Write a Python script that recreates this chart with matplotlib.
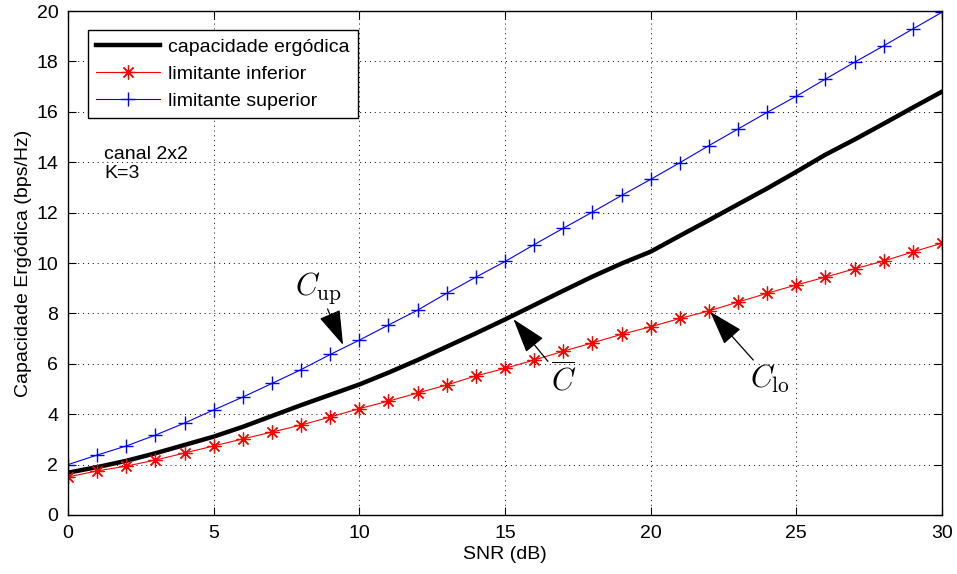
import numpy as np
import matplotlib
matplotlib.use("Agg")
import matplotlib.pyplot as plt

plt.rcParams['font.family'] = ['Liberation Sans', 'DejaVu Sans']
plt.rcParams['mathtext.fontset'] = 'cm'

# dados
snr = list(range(0, 31))
cap_ergodica = [1.68, 1.9, 2.15, 2.45, 2.78, 3.11, 3.5, 3.93, 4.36, 4.77, 5.18,
                5.65, 6.15, 6.68, 7.21, 7.76, 8.33, 8.9, 9.46, 9.98, 10.45,
                11.08, 11.7, 12.33, 12.96, 13.62, 14.3, 14.9, 15.53, 16.17, 16.8]
lim_inferior = [1.51, 1.75, 1.94, 2.18, 2.46, 2.74, 3.02, 3.29, 3.57, 3.89, 4.22,
                4.52, 4.84, 5.16, 5.52, 5.82, 6.15, 6.5, 6.83, 7.17, 7.47,
                7.8, 8.1, 8.45, 8.8, 9.13, 9.44, 9.77, 10.08, 10.44, 10.79]
lim_superior = [2.0, 2.38, 2.74, 3.17, 3.65, 4.17, 4.68, 5.22, 5.77, 6.37, 6.94,
                7.54, 8.13, 8.8, 9.44, 10.06, 10.73, 11.38, 12.02, 12.68, 13.32,
                13.98, 14.66, 15.32, 15.98, 16.62, 17.3, 17.97, 18.62, 19.29, 19.95]

fig = plt.figure(figsize=(9.57, 5.74), dpi=100)
ax = fig.add_axes([0.0711, 0.1028, 0.9132, 0.878])

ax.plot(snr, cap_ergodica, color='black', linewidth=3.2, label='capacidade ergódica')
ax.plot(snr, lim_inferior, color='red', linewidth=0.8, marker=(8, 2, 0), markersize=10,
        markeredgewidth=0.9, label='limitante inferior')
ax.plot(snr, lim_superior, color='blue', linewidth=0.8, marker='+', markersize=10,
        markeredgewidth=1.0, label='limitante superior')

ax.set_xlim(0, 30)
ax.set_ylim(0, 20)
ax.set_xticks(range(0, 31, 5))
ax.set_yticks(range(0, 21, 2))
ax.tick_params(direction='in', top=True, right=True, labelsize=14, length=6, width=0.8,
               pad=7)
for s in ax.spines.values():
    s.set_linewidth(1.0)
ax.grid(True, color='black', linestyle=(0, (1, 4)), linewidth=0.7)

ax.set_xlabel('SNR (dB)', fontsize=14, labelpad=3)
ax.set_ylabel('Capacidade Ergódica (bps/Hz)', fontsize=14, labelpad=3)

leg = ax.legend(loc='upper left', bbox_to_anchor=(0.0229, 0.9623), fontsize=14,
                fancybox=False, edgecolor='black', framealpha=1, handlelength=3.3,
                borderaxespad=0, labelspacing=0.48, handletextpad=0.4, borderpad=0.42)
leg.get_frame().set_linewidth(1.0)

ax.text(1.25, 14.65, 'canal 2x2\nK=3', fontsize=14, va='top', ha='left', linespacing=1.2)

seta = dict(arrowstyle='-|>,head_length=1.0,head_width=0.32', color='black', lw=0.9,
            shrinkA=0, shrinkB=0)
ax.annotate(r'$C_{\rm up}$', xy=(9.44, 6.75), xytext=(8.6, 9.0), fontsize=22,
            ha='center', va='center', arrowprops=seta)
ax.annotate(r'$\overline{C}$', xy=(15.29, 7.77), xytext=(17.0, 5.35), fontsize=22,
            ha='center', va='center', arrowprops=seta)
ax.annotate(r'$C_{\rm lo}$', xy=(22.04, 8.07), xytext=(24.1, 5.4), fontsize=22,
            ha='center', va='center', arrowprops=seta)

fig.savefig('out.png', dpi=100)
